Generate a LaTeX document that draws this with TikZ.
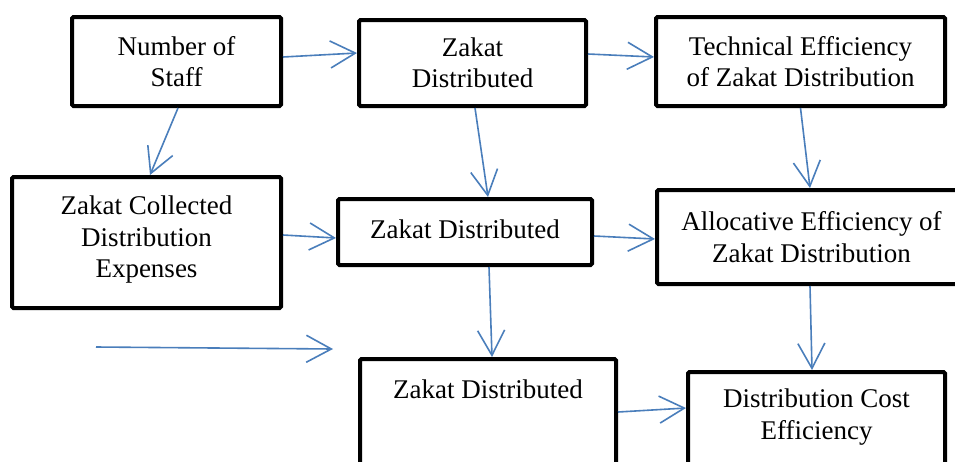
\documentclass[tikz,border=0pt]{standalone}
\usepackage{fontspec}
\setmainfont{Liberation Serif}
\usetikzlibrary{arrows.meta,calc}
\definecolor{arrowblue}{RGB}{74,126,187}
\tikzset{
  box/.style={draw=black, line width=4pt, rounded corners=1.5pt, fill=white,
    align=center, inner sep=0pt, font=\fontsize{27}{31.5}\selectfont},
  txt/.style={align=center, inner sep=0pt, font=\fontsize{27}{31.5}\selectfont},
  flow/.style={draw=arrowblue, line width=1.6pt, -{Straight Barb[length=25pt,width=27pt,line width=1.6pt]}}
}
\begin{document}
\begin{tikzpicture}[x=1pt,y=-1pt]
\useasboundingbox (0,0) rectangle (955,461);
\clip (0,0) rectangle (955,461);
\fill[white] (0,0) rectangle (955,461);
% boxes
\node[box, minimum width=209pt, minimum height=89pt] (A) at (176.5,61.5) {Number of\\Staff};
\node[box, minimum width=227pt, minimum height=86pt] (B) at (472.5,63) {Zakat\\Distributed};
\node[box, minimum width=289pt, minimum height=89pt] (C) at (800.5,61.5) {Technical Efficiency\\of Zakat Distribution};
\node[box, minimum width=269pt, minimum height=131pt] (D) at (146.5,242.5) {};
\node[txt] (Dt) at (146.5,240) {Zakat Collected\\Distribution\\Expenses};
\node[box, minimum width=254pt, minimum height=66pt] (E) at (465,232) {};
\node[txt] (Et) at (465,229.5) {Zakat Distributed};
\node[box, minimum width=309pt, minimum height=94pt] (F) at (811.5,237) {Allocative Efficiency of\\Zakat Distribution};
\node[box, minimum width=256pt, minimum height=159pt] (G) at (488,438.5) {};
\node[txt] (Gt) at (488,389) {Zakat Distributed};
\node[box, minimum width=257pt, minimum height=146pt] (H) at (816.5,445) {};
\node[txt] (Ht) at (816.5,417) {Distribution Cost\\Efficiency};
% free arrow ends
\coordinate (P) at (96,347);
\coordinate (Q) at (333,349);
% connectors
\draw[flow] ([shift={(0,-4.5)}]A.east) -- ([shift={(0,-10)}]B.west);
\draw[flow] ([shift={(0,-9)}]B.east) -- ([shift={(0,-4.5)}]C.west);
\draw[flow] ([shift={(1.5,0)}]A.south) -- ([shift={(3.5,0)}]D.north);
\draw[flow] ([shift={(2.5,0)}]B.south) -- ([shift={(23,0)}]E.north);
\draw[flow] (C.south) -- ([shift={(-1.5,0)}]F.north);
\draw[flow] ([shift={(0,-7.5)}]D.east) -- ([shift={(0,6)}]E.west);
\draw[flow] ([shift={(0,4)}]E.east) -- ([shift={(0,2)}]F.west);
\draw[flow] ([shift={(24,0)}]E.south) -- ([shift={(4,0)}]G.north);
\draw[flow] ([shift={(-1.5,0)}]F.south) -- ([shift={(-4.5,0)}]H.north);
\draw[flow] ([shift={(0,-26.5)}]G.east) -- ([shift={(0,-37)}]H.west);
\draw[flow] (P) -- (Q);
\end{tikzpicture}
\end{document}
